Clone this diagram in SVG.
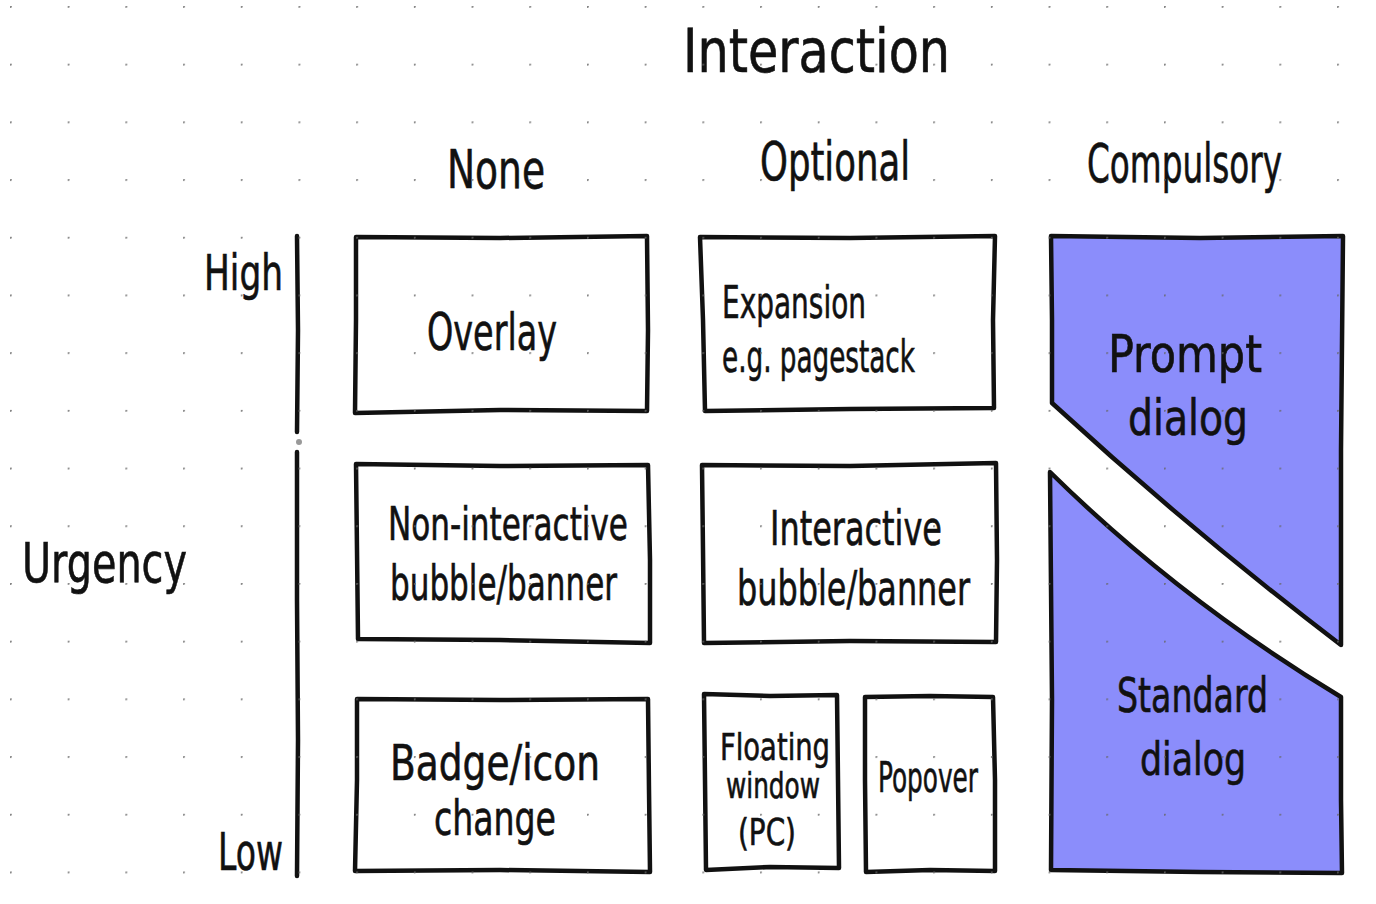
<svg xmlns="http://www.w3.org/2000/svg" width="1376" height="904" viewBox="0 0 1376 904">
<defs>
<pattern id="dots" x="10" y="6" width="57.7" height="57.7" patternUnits="userSpaceOnUse">
<circle cx="0.8" cy="0.8" r="1.1" fill="#666"/>
</pattern>
<style>
.t{font-family:"Liberation Sans Narrow","DejaVu Sans Condensed","Liberation Sans",sans-serif;fill:#111;stroke:#111;stroke-width:0.6;text-anchor:start}
.box{fill:none;stroke:#111;stroke-width:4.5;stroke-linejoin:round;stroke-linecap:round}
.fill{fill:#8b8dfb;stroke:#111;stroke-width:4.5;stroke-linejoin:round;stroke-linecap:round}
</style>
</defs>
<rect width="1376" height="904" fill="#fff"/>

<g id="axis">
<path class="box" d="M297 236 L298 330 L297 432"/>
<path class="box" d="M297 452 L297 600 L298 740 L297 876"/>
<circle cx="299" cy="442" r="3" fill="#999"/>
</g>

<g id="labels">
<text class="t" x="683" y="72" font-size="60" textLength="267" lengthAdjust="spacingAndGlyphs">Interaction</text>
<text class="t" x="447" y="188" font-size="54" textLength="98" lengthAdjust="spacingAndGlyphs">None</text>
<text class="t" x="760" y="180" font-size="54" textLength="150" lengthAdjust="spacingAndGlyphs">Optional</text>
<text class="t" x="1087" y="182" font-size="54" textLength="195" lengthAdjust="spacingAndGlyphs">Compulsory</text>
<text class="t" x="204" y="290" font-size="50" textLength="79" lengthAdjust="spacingAndGlyphs">High</text>
<text class="t" x="218" y="870" font-size="52" textLength="65" lengthAdjust="spacingAndGlyphs">Low</text>
<text class="t" x="22" y="582" font-size="56" textLength="165" lengthAdjust="spacingAndGlyphs">Urgency</text>
</g>

<g id="overlay">
<path class="box" d="M356 237 L500 238 L647 236 L648 330 L647 411 L500 410 L355 413 L356 320 Z"/>
<text class="t" x="427" y="350" font-size="52" textLength="130" lengthAdjust="spacingAndGlyphs">Overlay</text>
</g>

<g id="expansion">
<path class="box" d="M700 237 L850 238 L995 236 L993 320 L994 408 L850 409 L705 411 L703 320 Z"/>
<text class="t" x="722" y="318" font-size="44" textLength="144" lengthAdjust="spacingAndGlyphs">Expansion</text>
<text class="t" x="722" y="372" font-size="44" textLength="193" lengthAdjust="spacingAndGlyphs">e.g. pagestack</text>
</g>

<g id="noninteractive">
<path class="box" d="M356 464 L500 466 L648 465 L650 560 L650 643 L500 640 L358 639 L357 550 Z"/>
<text class="t" x="388" y="540" font-size="46" textLength="240" lengthAdjust="spacingAndGlyphs">Non-interactive</text>
<text class="t" x="390" y="600" font-size="48" textLength="227" lengthAdjust="spacingAndGlyphs">bubble/banner</text>
</g>

<g id="interactive">
<path class="box" d="M702 465 L850 466 L996 463 L997 560 L996 642 L850 641 L704 643 L703 550 Z"/>
<text class="t" x="770" y="545" font-size="48" textLength="172" lengthAdjust="spacingAndGlyphs">Interactive</text>
<text class="t" x="737" y="605" font-size="48" textLength="233" lengthAdjust="spacingAndGlyphs">bubble/banner</text>
</g>

<g id="badge">
<path class="box" d="M357 699 L500 700 L648 699 L649 790 L650 872 L500 870 L355 871 L357 780 Z"/>
<text class="t" x="390" y="780" font-size="50" textLength="210" lengthAdjust="spacingAndGlyphs">Badge/icon</text>
<text class="t" x="434" y="835" font-size="48" textLength="122" lengthAdjust="spacingAndGlyphs">change</text>
</g>

<g id="floating">
<path class="box" d="M704 694 L770 696 L837 695 L838 780 L839 868 L770 867 L706 870 L705 780 Z"/>
<text class="t" x="720" y="760" font-size="38" textLength="110" lengthAdjust="spacingAndGlyphs">Floating</text>
<text class="t" x="726" y="798" font-size="36" textLength="94" lengthAdjust="spacingAndGlyphs">window</text>
<text class="t" x="738" y="845" font-size="38" textLength="58" lengthAdjust="spacingAndGlyphs">(PC)</text>
</g>

<g id="popover">
<path class="box" d="M865 697 L930 696 L993 697 L995 780 L995 871 L930 870 L866 872 L865 780 Z"/>
<text class="t" x="878" y="792" font-size="42" textLength="100" lengthAdjust="spacingAndGlyphs">Popover</text>
</g>

<g id="prompt">
<path class="fill" d="M1051 236 L1200 238 L1343 236 L1341 450 L1341 645 Q1190 530 1052 403 L1052 320 Z"/>
<text class="t" x="1108" y="372" font-size="52" textLength="154" lengthAdjust="spacingAndGlyphs">Prompt</text>
<text class="t" x="1128" y="435" font-size="50" textLength="120" lengthAdjust="spacingAndGlyphs">dialog</text>
</g>

<g id="standard">
<path class="fill" d="M1050 472 Q1180 600 1341 697 L1341 800 L1342 873 L1200 872 L1051 870 L1052 700 Z"/>
<text class="t" x="1117" y="712" font-size="48" textLength="151" lengthAdjust="spacingAndGlyphs">Standard</text>
<text class="t" x="1140" y="775" font-size="46" textLength="106" lengthAdjust="spacingAndGlyphs">dialog</text>
</g>

<rect width="1376" height="904" fill="url(#dots)" opacity="0.8"/>
</svg>
